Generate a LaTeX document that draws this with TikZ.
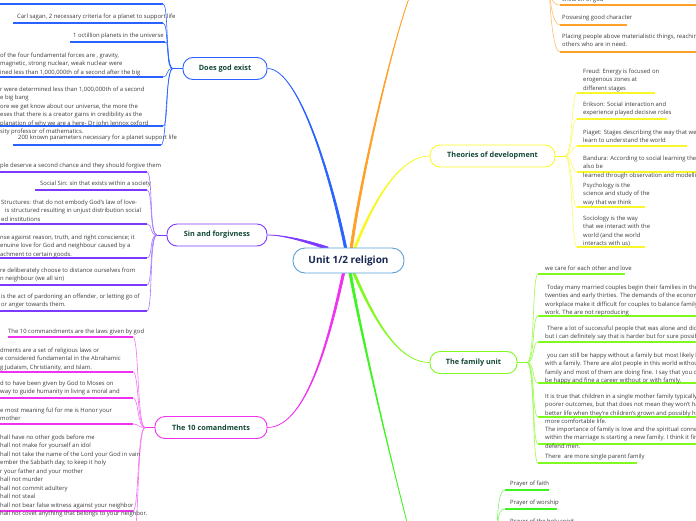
\documentclass[tikz,border=0pt]{standalone}
\usepackage{fontspec}
\setmainfont{Open Sans}
\usetikzlibrary{calc,backgrounds}
\definecolor{cblue}{RGB}{41,98,255}
\definecolor{cpurple}{RGB}{124,58,255}
\definecolor{cmag}{RGB}{240,50,240}
\definecolor{cyel}{RGB}{248,248,40}
\definecolor{clime}{RGB}{128,250,30}
\definecolor{cgreen}{RGB}{60,245,30}
\definecolor{corange}{RGB}{255,160,40}
\definecolor{cctr}{RGB}{90,160,215}
\definecolor{ttl}{RGB}{18,72,56}
\definecolor{ctrtxt}{RGB}{22,38,82}
\definecolor{txtg}{RGB}{60,60,60}
\begin{document}
\begin{tikzpicture}[x=1pt,y=-1pt,
  itm/.style={inner sep=0pt, anchor=base west, align=left, text=txtg, font=\fontsize{5.9}{8.5}\selectfont},
  topic/.style={draw, line width=0.9pt, rounded corners=10pt, fill=white, text=ttl, font=\fontsize{7.3}{9}\selectfont\bfseries, minimum height=22pt, inner xsep=0pt},
  cnode/.style={draw=cctr, line width=0.9pt, rounded corners=12pt, fill=white, text=ctrtxt, font=\fontsize{10}{11}\selectfont\bfseries, minimum height=25pt, minimum width=111pt, inner xsep=0pt},
  br/.style={line width=0.7pt},
  ul/.style={line width=1.3pt},
  con/.style={line width=0.6pt}
]
\useasboundingbox (0,0) rectangle (696,520);
\clip (0,0) rectangle (696,520);

% ---------- nodes ----------
\node[cnode] (cen) at (348.5,260.5) {Unit 1/2 religion};
\node[topic, draw=cblue, minimum width=84pt] (dge) at (225,68.5) {Does god exist};
\node[topic, draw=cpurple, minimum width=100pt] (sin) at (217,235) {Sin and forgivness};
\node[topic, draw=cmag, minimum width=112pt] (ten) at (211,427.5) {The 10 comandments};
\node[topic, draw=cyel, minimum width=125pt] (thd) at (492.5,156) {Theories of development};
\node[topic, draw=clime, minimum width=87pt] (fam) at (473.5,362.5) {The family unit};

% ---------- main branches (tapered) ----------
\coordinate (oTop) at (413,-12);
\coordinate (gBot) at (413,545);
\begin{scope}[on background layer]
\draw[br, cblue, fill=cblue] (344.8,250) .. controls (332,185) and (300,68.5) .. (dge.east) .. controls (300,68.5) and (334,185) .. (347.2,250) -- cycle;
\draw[br, corange, fill=corange] (349.8,250) .. controls (359,180) and (395,30) .. (oTop) .. controls (395,30) and (361,180) .. (352.2,250) -- cycle;
\draw[br, cyel, fill=cyel] (352.8,250) .. controls (367,215) and (395,156) .. (thd.west) .. controls (395,156) and (369,215) .. (355.2,250) -- cycle;
\draw[br, cpurple, fill=cpurple] (328,247) .. controls (310,241) and (285,235) .. (sin.east) .. controls (285,235) and (310,243.5) .. (328,250) -- cycle;
\draw[br, cmag, fill=cmag] (342.8,271) .. controls (332,320) and (310,427.5) .. (ten.east) .. controls (310,427.5) and (334,320) .. (345.2,271) -- cycle;
\draw[br, cgreen, fill=cgreen] (348.8,271) .. controls (353,300) and (385,440) .. (gBot) .. controls (385,440) and (355,300) .. (351.2,271) -- cycle;
\draw[br, clime, fill=clime] (351.8,271) .. controls (369,310) and (395,362.5) .. (fam.west) .. controls (395,362.5) and (371,310) .. (354.2,271) -- cycle;
\end{scope}

% ---------- Does god exist ----------
\coordinate (gs) at (173,68.5);
\draw[con, cblue] (dge.west) -- (gs);
\coordinate (gl0) at (0,4);    \coordinate (gu0) at (163,4);
\coordinate (gl1) at (13,23);  \coordinate (gu1) at (163,23);
\coordinate (gl2) at (70,42);  \coordinate (gu2) at (165,42);
\coordinate (gl3) at (0,77);   \coordinate (gu3) at (163,77);
\coordinate (gl4) at (0,126);  \coordinate (gu4) at (163,126);
\coordinate (gl5) at (13,145); \coordinate (gu5) at (161,145);
\foreach \i in {0,...,5}{
  \draw[ul, cblue] (gl\i) -- (gu\i);
  \draw[con, cblue] (gs) .. controls +(-8,0) and +(6,0) .. (gu\i);
}
\node[itm] (g1) at (17,18) {Carl sagan, 2 necessary criteria for a planet to support life};
\node[itm] (g2) at (73,37) {1 octillion planets in the universe};
\node[itm] (g3) at (0,74) {of the four fundamental forces are , gravity,\\magnetic, strong nuclear, weak nuclear were\\ined less than 1,000,000th of a second after the big};
\node[itm] (g4) at (0,133.5) {r were determined less than 1,000,000th of a second\\e big bang\\ore we get know about our universe, the more the\\eses that there is a creator gains in credibility as the\\planation of why we are a here- Dr john lennox oxford\\sity professor of mathematics.};
\node[itm] (g5) at (18,139) {200 known parameters necessary for a planet support life};

% ---------- Sin and forgivness ----------
\coordinate (ss) at (157,235);
\draw[con, cpurple] (sin.west) -- (ss);
\coordinate (sl1) at (0,172);  \coordinate (su1) at (147,172);
\coordinate (sl2) at (35,190); \coordinate (su2) at (147,190);
\coordinate (sl3) at (0,224);  \coordinate (su3) at (147,224);
\coordinate (sl4) at (0,258);  \coordinate (su4) at (147,258);
\coordinate (sl5) at (0,285);  \coordinate (su5) at (147,285);
\coordinate (sl6) at (0,311);  \coordinate (su6) at (147,311);
\foreach \i in {1,...,6}{
  \draw[ul, cpurple] (sl\i) -- (su\i);
  \draw[con, cpurple!70] (ss) .. controls +(-8,0) and +(6,0) .. (su\i);
}
\node[itm] (s1) at (0,167) {ple deserve a second chance and they should forgive them};
\node[itm] (s2) at (40,185) {Social Sin: sin that exists within a society};
\node[itm] (s3) at (1,221) {Structures: that do not embody God's law of love-\\\hspace{4pt}is structured resulting in unjust distribution social\\ed institutions};
\node[itm] (s4) at (0,256) {nse against reason, truth, and right conscience; it\\enuine love for God and neighbour caused by a\\achment to certain goods.};
\node[itm] (s5) at (0,280.5) {re deliberately choose to distance ourselves from\\n neighbour (we all sin)};
\node[itm] (s6) at (1,306.5) {is the act of pardoning an offender, or letting go of\\or anger towards them.};

% ---------- The 10 comandments ----------
\coordinate (ts) at (145,427.5);
\draw[con, cmag] (ten.west) -- (ts);
\coordinate (tl1) at (8,337);  \coordinate (tu1) at (133,337);
\coordinate (tl2) at (0,372);  \coordinate (tu2) at (133,372);
\coordinate (tl3) at (0,398);  \coordinate (tu3) at (133,398);
\coordinate (tl4) at (0,424);  \coordinate (tu4) at (133,424);
\coordinate (tl5) at (0,511);  \coordinate (tu5) at (133,511);
\coordinate (tu6) at (133,540);
\foreach \i in {1,...,5}{
  \draw[ul, cmag] (tl\i) -- (tu\i);
  \draw[con, cmag!70] (ts) .. controls +(-8,0) and +(6,0) .. (tu\i);
}
\draw[con, cmag!70] (ts) .. controls +(-8,0) and +(6,0) .. (tu6);
\node[itm] (t1) at (8,333) {The 10 commandments are the laws given by god};
\node[itm] (t2) at (0,369) {dments are a set of religious laws or\\e considered fundamental in the Abrahamic\\g Judaism, Christianity, and Islam.};
\node[itm] (t3) at (0,393.5) {d to have been given by God to Moses on\\way to guide humanity in living a moral and};
\node[itm] (t4) at (0,420.5) {e most meaning ful for me is Honor your\\mother};
\node[itm] (t5) at (0,515.5) {hall have no other gods before me\\hall not make for yourself an idol\\hall not take the name of the Lord your God in vain\\ember the Sabbath day, to keep it holy\\r your father and your mother\\hall not murder\\hall not commit adultery\\hall not steal\\hall not bear false witness against your neighbor\\hall not covet anything that belongs to your neighbor.};

% ---------- Theories of development ----------
\coordinate (ys) at (565,156);
\draw[con, cyel] (thd.east) -- (ys);
\coordinate (yl1) at (577,93);  \coordinate (yu1) at (655,93);
\coordinate (yl2) at (577,119); \coordinate (yu2) at (667,119);
\coordinate (yl3) at (577,146); \coordinate (yu3) at (687,146);
\coordinate (yl4) at (577,172); \coordinate (yu4) at (700,172);
\coordinate (yl5) at (577,207); \coordinate (yu5) at (645,207);
\coordinate (yl6) at (577,247); \coordinate (yu6) at (645,247);
\foreach \i in {1,...,6}{
  \draw[ul, cyel] (yl\i) -- (yu\i);
  \draw[con, cyel!70] (ys) .. controls +(8,0) and +(-6,0) .. (yl\i);
}
\node[itm] (y1) at (583,90) {Freud: Energy is focused on\\erogenous zones at\\different stages};
\node[itm] (y2) at (583,114.5) {Erikson: Social interaction and\\experience played decisive roles};
\node[itm] (y3) at (583,142.5) {Piaget: Stages describing the way that we\\learn to understand the world};
\node[itm] (y4) at (583,177) {Bandura: According to social learning theory,\\also be\\learned through observation and modelling};
\node[itm] (y5) at (583,204) {Psychology is the\\science and study of the\\way that we think};
\node[itm] (y6) at (583,245.5) {Sociology is the way\\that we interact with the\\world (and the world\\interacts with us)};

% ---------- The family unit ----------
\coordinate (fs) at (527,362.5);
\draw[con, clime] (fam.east) -- (fs);
\coordinate (fl1) at (538,274); \coordinate (fu1) at (625,274);
\coordinate (fl2) at (538,316); \coordinate (fu2) at (700,316);
\coordinate (fl3) at (538,342); \coordinate (fu3) at (700,342);
\coordinate (fl4) at (538,383); \coordinate (fu4) at (700,383);
\coordinate (fl5) at (538,417); \coordinate (fu5) at (700,417);
\coordinate (fl6) at (538,444); \coordinate (fu6) at (700,444);
\coordinate (fl7) at (538,463); \coordinate (fu7) at (637,463);
\foreach \i in {1,...,7}{
  \draw[ul, clime] (fl\i) -- (fu\i);
  \draw[con, clime!80] (fs) .. controls +(8,0) and +(-6,0) .. (fl\i);
}
\node[itm] (f1) at (545,270) {we care for each other and love};
\node[itm] (f2) at (545,314.5) {\hspace{2pt}Today many married couples begin their families in their\\twenties and early thirties. The demands of the economy\\workplace make it difficult for couples to balance family\\work. The are not reproducing};
\node[itm] (f3) at (545,338.5) {\hspace{2pt}There a lot of successful people that was alone and didn't\\but i can definitely say that is harder but for sure possible};
\node[itm] (f4) at (545,382.5) {\hspace{2pt}you can still be happy without a family but most likely be\\with a family. There are alot people in this world without\\family and most of them are doing fine. I say that you can\\be happy and fine a career without or with family.};
\node[itm] (f5) at (545,423.5) {It is true that children in a single mother family typically\\poorer outcomes, but that does not mean they won't have\\better life when they're children's grown and possibly have\\more comfortable life.};
\node[itm] (f6) at (545,448) {The importance of family is love and the spiritual connection\\within the marriage is starting a new family. I think it fine\\defend men.};
\node[itm] (f7) at (545,458) {There\ \ are more single parent family};

% ---------- orange branch (top) ----------
\coordinate (os) at (549,-25);
\coordinate (ol1) at (560,5);  \coordinate (ou1) at (700,5);
\coordinate (ol2) at (560,25); \coordinate (ou2) at (627,25);
\coordinate (ol3) at (560,52); \coordinate (ou3) at (700,52);
\foreach \i in {1,2,3}{
  \draw[ul, corange] (ol\i) -- (ou\i);
  \draw[con, corange!70] (os) .. controls +(0,22) and +(-8,0) .. (ol\i);
}
\node[itm] (o1) at (562,1) {children of god};
\node[itm] (o2) at (562,19) {Possesing good character};
\node[itm] (o3) at (562,46.5) {Placing people above materialistic things, reaching out to\\others who are in need.};

% ---------- green branch (bottom) ----------
\coordinate (ps) at (497,550);
\coordinate (pl1) at (505,490); \coordinate (pu1) at (549,490);
\coordinate (pl2) at (505,509); \coordinate (pu2) at (557,509);
\coordinate (pl3) at (505,528); \coordinate (pu3) at (580,528);
\foreach \i in {1,2,3}{
  \draw[ul, cgreen] (pl\i) -- (pu\i);
  \draw[con, cgreen!70] (ps) .. controls +(0,-25) and +(-8,0) .. (pl\i);
}
\node[itm] (p1) at (510,485) {Prayer of faith};
\node[itm] (p2) at (510,504) {Prayer of worship};
\node[itm] (p3) at (510,523) {Prayer of the holy spirit};
\end{tikzpicture}
\end{document}
